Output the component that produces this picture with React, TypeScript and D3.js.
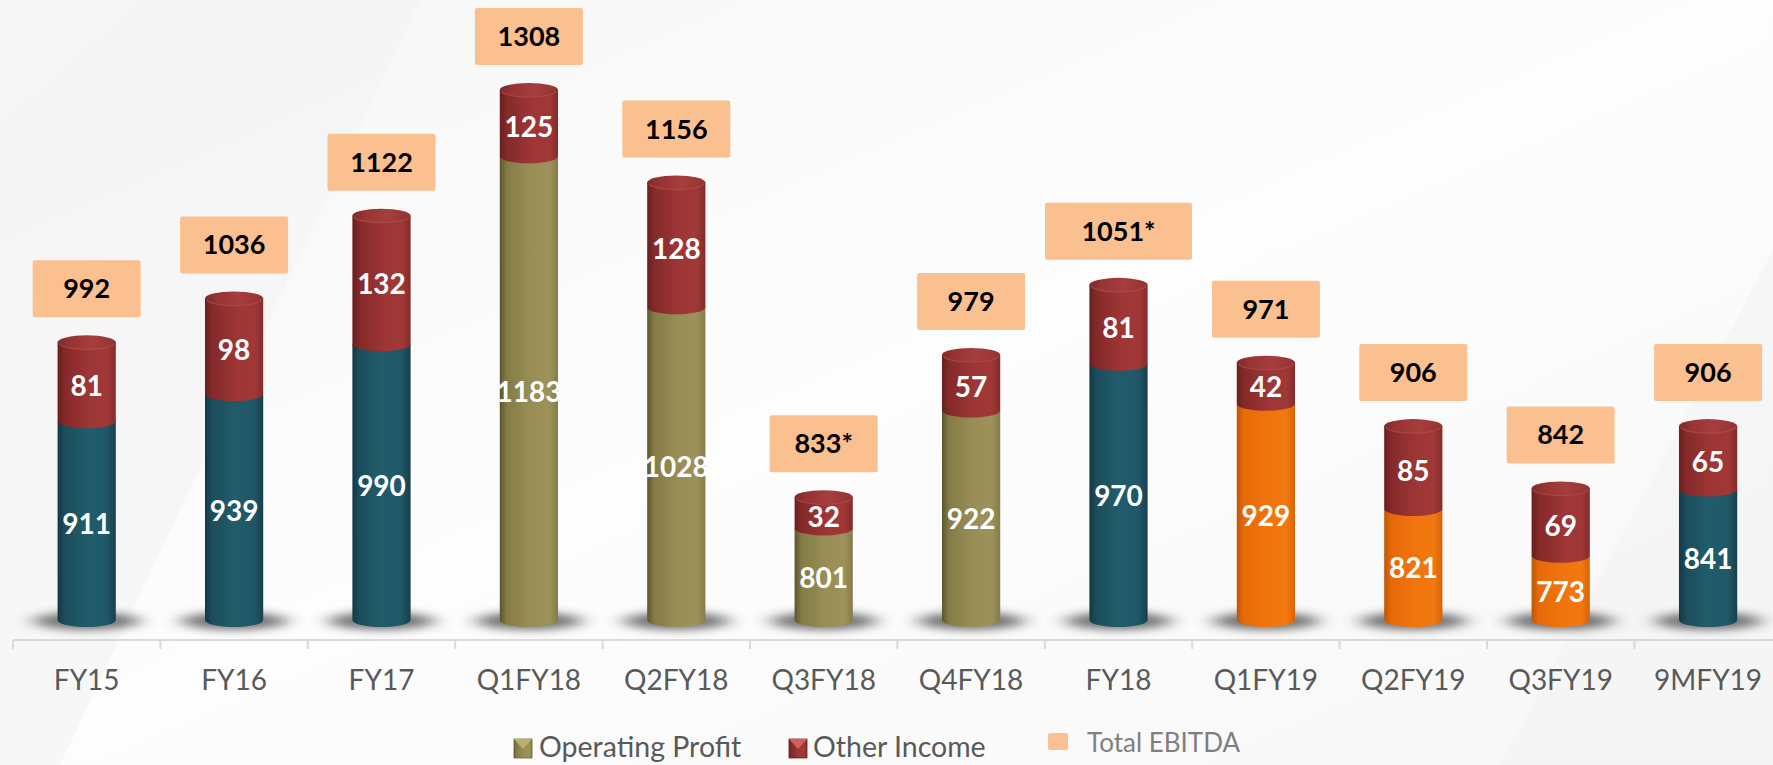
import React from "react";
import * as d3 from "d3";

const categories = ["FY15","FY16","FY17","Q1FY18","Q2FY18","Q3FY18","Q4FY18","FY18","Q1FY19","Q2FY19","Q3FY19","9MFY19"];
const operatingProfit = [911,939,990,1183,1028,801,922,970,929,821,773,841];
const otherIncome = [81,98,132,125,128,32,57,81,42,85,69,65];
const totalEbitda = [992,1036,1122,1308,1156,833,979,1051,971,906,842,906];
const totalNote = ["","","","","","*","","*","","","",""];
const periodType = ["annual","annual","annual","q18","q18","q18","q18","annual","q19","q19","q19","annual"];
const legendItems = ["Operating Profit","Other Income","Total EBITDA"];

const W = 1773, H = 765;
const FONT = "Lato, 'Open Sans', sans-serif";

const gradStops: Record<string, [number, string][]> = {
  annual: [[0,"#143844"],[0.12,"#1c4d5b"],[0.5,"#215c6b"],[0.85,"#1f5767"],[1,"#173f4c"]],
  q18: [[0,"#5c562e"],[0.12,"#847b46"],[0.5,"#978d55"],[0.85,"#9c925a"],[1,"#857c4a"]],
  q19: [[0,"#c05605"],[0.12,"#e56a08"],[0.5,"#f0740c"],[0.85,"#f27810"],[1,"#d86306"]],
  other: [[0,"#6a1f1f"],[0.12,"#842929"],[0.55,"#9e3636"],[0.85,"#a03838"],[1,"#852b2b"]],
  cap: [[0,"#7e2828"],[0.2,"#973333"],[0.6,"#a63e3e"],[1,"#933232"]],
};

export default function App() {
  const x = d3.scaleBand<string>().domain(categories).range([13, 13 + 147.4 * categories.length]);
  const y = d3.scaleLinear().domain([707, 1251]).range([620, 90]).clamp(true);
  const bw = x.bandwidth() * 0.395;
  const rx = bw / 2;
  const ry = 7;
  const yBase = y(707);
  const axisY = 640;

  const bars = categories.map((c, i) => {
    const cx = (x(c) as number) + x.bandwidth() / 2;
    const yOp = y(operatingProfit[i]);
    const yTot = y(operatingProfit[i] + otherIncome[i]);
    return { c, i, cx, yOp, yTot };
  });

  const bodyPath = (cx: number, yTop: number, yBot: number) =>
    `M${cx - rx},${yTop} L${cx - rx},${yBot} A${rx},${ry} 0 0 0 ${cx + rx},${yBot} L${cx + rx},${yTop} Z`;

  return (
    <svg width={W} height={H} style={{ position: "absolute", left: 0, top: 0, display: "block" }} fontFamily={FONT}>
      <defs>
        {Object.entries(gradStops).map(([k, stops]) => (
          <linearGradient key={k} id={`g-${k}`} x1="0" x2="1" y1="0" y2="0">
            {stops.map(([o, col], j) => <stop key={j} offset={o} stopColor={col} />)}
          </linearGradient>
        ))}
        <linearGradient id="bg" x1="0" x2="1" y1="0" y2="1">
          <stop offset="0" stopColor="#f6f6f6" />
          <stop offset="0.5" stopColor="#fdfdfd" />
          <stop offset="1" stopColor="#f7f7f7" />
        </linearGradient>
        <filter id="shadowBlur" x="-80%" y="-250%" width="260%" height="600%">
          <feGaussianBlur stdDeviation="10 4" />
        </filter>
      </defs>
      <rect x={0} y={0} width={W} height={H} fill="url(#bg)" />
      <polygon points="0,120 140,0 420,0 60,765 0,765" fill="#f3f3f3" opacity={0.6} />
      <polygon points="1500,765 1773,250 1773,765" fill="#f4f4f4" opacity={0.7} />

      {/* axis */}
      <line x1={13} x2={W} y1={axisY} y2={axisY} stroke="#d9d9d9" strokeWidth={2} />
      {categories.map((c, i) => (
        <line key={`t${i}`} x1={(x(c) as number)} x2={(x(c) as number)} y1={axisY} y2={axisY + 9} stroke="#d9d9d9" strokeWidth={2} />
      ))}

      {/* shadows */}
      {bars.map(b => (
        <ellipse key={`s${b.i}`} cx={b.cx} cy={yBase + 1} rx={rx + 24} ry={9} fill="#3a3a3a" opacity={0.7} filter="url(#shadowBlur)" />
      ))}

      {/* cylinders */}
      {bars.map(b => (
        <g key={`b${b.i}`}>
          <path d={bodyPath(b.cx, b.yOp, yBase)} fill={`url(#g-${periodType[b.i]})`} />
          <path d={bodyPath(b.cx, b.yTot, b.yOp)} fill="url(#g-other)" />
          <ellipse cx={b.cx} cy={b.yTot} rx={rx} ry={ry} fill="url(#g-cap)" />
          <path d={`M${b.cx - rx + 2},${b.yTot + 1} A${rx - 2},${ry - 1} 0 0 0 ${b.cx + rx - 2},${b.yTot + 1}`} fill="none" stroke="#b44a4a" strokeWidth={1.2} opacity={0.8} />
        </g>
      ))}

      {/* value labels */}
      {bars.map(b => (
        <g key={`l${b.i}`} fill="#ffffff" fontWeight={700} fontSize={28} textAnchor="middle">
          <text x={b.cx} y={(b.yOp + yBase) / 2 + 4} dy="0.35em">{operatingProfit[b.i]}</text>
          <text x={b.cx} y={(b.yTot + b.yOp) / 2 + 4} dy="0.35em">{otherIncome[b.i]}</text>
        </g>
      ))}

      {/* total EBITDA boxes */}
      {bars.map(b => {
        const label = `${totalEbitda[b.i]}${totalNote[b.i]}`;
        const bwBox = label.length >= 5 ? 147 : 108;
        const boxBottom = b.yTot - ry - 18;
        const boxH = 57;
        return (
          <g key={`e${b.i}`}>
            <rect x={b.cx - bwBox / 2} y={boxBottom - boxH} width={bwBox} height={boxH} rx={2} fill="#fac090" />
            <text x={b.cx} y={boxBottom - boxH / 2} dy="0.35em" textAnchor="middle" fontSize={27} fontWeight={700} fill="#000000">{label}</text>
          </g>
        );
      })}

      {/* category labels */}
      {bars.map(b => (
        <text key={`c${b.i}`} x={b.cx} y={690} textAnchor="middle" fontSize={28} fill="#595959">{b.c}</text>
      ))}

      {/* legend */}
      <g>
        <rect x={514} y={739} width={18} height={19} fill="url(#g-q18)" stroke="#6b6436" strokeWidth={0.8} />
        <polygon points="514,739 532,739 523,749" fill="#b9b070" />
        <text x={539} y={757} fontSize={28.5} fill="#595959">{legendItems[0]}</text>
        <rect x={789} y={739} width={18} height={19} fill="url(#g-other)" stroke="#6a2020" strokeWidth={0.8} />
        <polygon points="789,739 807,739 798,749" fill="#d06060" />
        <text x={813} y={757} fontSize={28.5} fill="#595959">{legendItems[1]}</text>
        <rect x={1048} y={733} width={20} height={17} rx={2} fill="#fac090" />
        <text x={1087} y={752} fontSize={26} fill="#7f7f7f">{legendItems[2]}</text>
      </g>
    </svg>
  );
}
